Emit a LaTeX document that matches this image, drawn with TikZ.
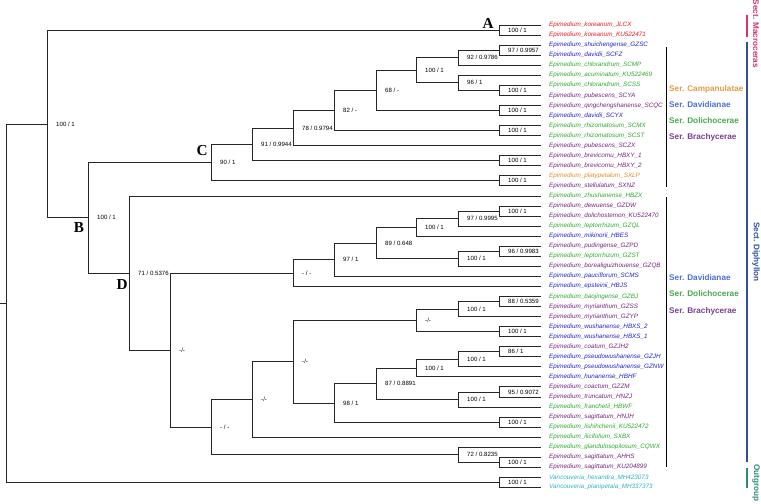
\documentclass[tikz,border=0pt]{standalone}
\usepackage{fontspec}
\setmainfont{Liberation Sans}
\newfontfamily\cladefont{Liberation Serif}
\usepackage{tikz}

% taxon colours
\definecolor{tred}{HTML}{E8191E}
\definecolor{tblue}{HTML}{2222CC}
\definecolor{tgreen}{HTML}{2EA82E}
\definecolor{tpurple}{HTML}{76237E}
\definecolor{torange}{HTML}{E48A2A}
\definecolor{tcyan}{HTML}{2DB3BE}
% series and section colours
\definecolor{sorange}{HTML}{E39A45}
\definecolor{sblue}{HTML}{4A70DA}
\definecolor{sgreen}{HTML}{46A94D}
\definecolor{spurple}{HTML}{7B3F92}
\definecolor{secmac}{HTML}{D7336A}
\definecolor{secdip}{HTML}{33509F}
\definecolor{secout}{HTML}{2B8A78}

\tikzset{
  branch/.style={line width=0.6pt, draw=black!85},
  taxon/.style={anchor=west, inner xsep=0.24cm, inner ysep=0pt, font=\fontsize{5.4}{6}\selectfont\itshape},
  supp/.style={font=\fontsize{5.2}{6}\selectfont, inner sep=0pt},
  bs/.style={label={[supp, label distance=0.27cm]right:#1}},
  clade/.style={inner sep=0pt, font=\cladefont\bfseries\fontsize{13}{13}\selectfont},
  serie/.style={anchor=west, inner sep=0pt, font=\fontsize{7}{8}\selectfont\bfseries},
  sect/.style={rotate=-90, inner sep=0pt, font=\fontsize{7}{8}\selectfont\bfseries},
  bar/.style={line width=1.1pt},
}

\begin{document}
\begin{tikzpicture}[x=0.03cm, y=-0.03cm]
    \useasboundingbox (0,0) rectangle (761,503);

    % tips
    \node[taxon, text=tred] (t1) at (541,25.0) {Epimedium\_koreanum\_JLCX};
    \node[taxon, text=tred] (t2) at (541,35.1) {Epimedium\_koreanum\_KU522471};
    \node[taxon, text=tblue] (t3) at (541,45.1) {Epimedium\_shuichengense\_GZSC};
    \node[taxon, text=tblue] (t4) at (541,55.2) {Epimedium\_davidii\_SCFZ};
    \node[taxon, text=tgreen] (t5) at (541,65.2) {Epimedium\_chlorandrum\_SCMP};
    \node[taxon, text=tgreen] (t6) at (541,75.3) {Epimedium\_acuminatum\_KU522469};
    \node[taxon, text=tgreen] (t7) at (541,85.3) {Epimedium\_chlorandrum\_SCSS};
    \node[taxon, text=tpurple] (t8) at (541,95.4) {Epimedium\_pubescens\_SCYA};
    \node[taxon, text=tpurple] (t9) at (541,105.4) {Epimedium\_qingchengshanense\_SCQC};
    \node[taxon, text=tblue] (t10) at (541,115.5) {Epimedium\_davidii\_SCYX};
    \node[taxon, text=tgreen] (t11) at (541,125.5) {Epimedium\_rhizomatosum\_SCMX};
    \node[taxon, text=tgreen] (t12) at (541,135.6) {Epimedium\_rhizomatosum\_SCST};
    \node[taxon, text=tpurple] (t13) at (541,145.6) {Epimedium\_pubescens\_SCZX};
    \node[taxon, text=tpurple] (t14) at (541,155.7) {Epimedium\_brevicornu\_HBXY\_1};
    \node[taxon, text=tpurple] (t15) at (541,165.7) {Epimedium\_brevicornu\_HBXY\_2};
    \node[taxon, text=torange] (t16) at (541,175.8) {Epimedium\_platypetalum\_SXLP};
    \node[taxon, text=tpurple] (t17) at (541,185.8) {Epimedium\_stellulatum\_SXNZ};
    \node[taxon, text=tgreen] (t18) at (541,195.9) {Epimedium\_zhushanense\_HBZX};
    \node[taxon, text=tpurple] (t19) at (541,205.9) {Epimedium\_dewuense\_GZDW};
    \node[taxon, text=tpurple] (t20) at (541,216.0) {Epimedium\_dolichostemon\_KU522470};
    \node[taxon, text=tgreen] (t21) at (541,226.0) {Epimedium\_leptorrhizum\_GZQL};
    \node[taxon, text=tblue] (t22) at (541,236.1) {Epimedium\_mikinorii\_HBES};
    \node[taxon, text=tpurple] (t23) at (541,246.1) {Epimedium\_pudingense\_GZPD};
    \node[taxon, text=tgreen] (t24) at (541,256.2) {Epimedium\_leptorrhizum\_GZST};
    \node[taxon, text=tpurple] (t25) at (541,266.2) {Epimedium\_borealiguizhouense\_GZQB};
    \node[taxon, text=tblue] (t26) at (541,276.3) {Epimedium\_pauciflorum\_SCMS};
    \node[taxon, text=tblue] (t27) at (541,286.3) {Epimedium\_epsteinii\_HBJS};
    \node[taxon, text=tgreen] (t28) at (541,296.4) {Epimedium\_baojingense\_GZBJ};
    \node[taxon, text=tpurple] (t29) at (541,306.4) {Epimedium\_myrianthum\_GZSS};
    \node[taxon, text=tpurple] (t30) at (541,316.5) {Epimedium\_myrianthum\_GZYP};
    \node[taxon, text=tblue] (t31) at (541,326.5) {Epimedium\_wushanense\_HBXS\_2};
    \node[taxon, text=tblue] (t32) at (541,336.6) {Epimedium\_wushanense\_HBXS\_1};
    \node[taxon, text=tpurple] (t33) at (541,346.6) {Epimedium\_coatum\_GZJH2};
    \node[taxon, text=tblue] (t34) at (541,356.7) {Epimedium\_pseudowushanense\_GZJH};
    \node[taxon, text=tblue] (t35) at (541,366.7) {Epimedium\_pseudowushanense\_GZNW};
    \node[taxon, text=tblue] (t36) at (541,376.8) {Epimedium\_hunanense\_HBHF};
    \node[taxon, text=tpurple] (t37) at (541,386.8) {Epimedium\_coactum\_GZZM};
    \node[taxon, text=tpurple] (t38) at (541,396.9) {Epimedium\_truncatum\_HNZJ};
    \node[taxon, text=tgreen] (t39) at (541,406.9) {Epimedium\_franchetii\_HBWF};
    \node[taxon, text=tpurple] (t40) at (541,417.0) {Epimedium\_sagittatum\_HNJH};
    \node[taxon, text=tgreen] (t41) at (541,427.0) {Epimedium\_lishihchenii\_KU522472};
    \node[taxon, text=tgreen] (t42) at (541,437.1) {Epimedium\_ilicifolium\_SXBX};
    \node[taxon, text=tgreen] (t43) at (541,447.1) {Epimedium\_glandulosopilosum\_CQWX};
    \node[taxon, text=tpurple] (t44) at (541,457.2) {Epimedium\_sagittatum\_AHHS};
    \node[taxon, text=tpurple] (t45) at (541,467.2) {Epimedium\_sagittatum\_KU204899};
    \node[taxon, text=tcyan] (t46) at (541,477.3) {Vancouveria\_hexandra\_MH423073};
    \node[taxon, text=tcyan] (t47) at (541,487.3) {Vancouveria\_planipetala\_MH337373};

    % internal nodes with support values
    \coordinate (stub) at (0,303.1);
    \coordinate (root) at (6,303.1);
    \coordinate[bs=100 / 1] (nE) at (47,123.9);
    \coordinate[bs=100 / 1] (pA) at (499,30.05);
    \coordinate[bs=100 / 1] (B) at (88,217.75);
    % clade C
    \coordinate[bs=90 / 1] (C) at (211,162.6);
    \coordinate[bs=91 / 0.9944] (n91) at (252,144.35);
    \coordinate[bs=78 / 0.9794] (n78) at (293,128.0);
    \coordinate[bs=82 / -] (n82) at (334,110.45);
    \coordinate[bs=68 / -] (n68) at (376,90.35);
    \coordinate[bs=100 / 1] (n100a) at (416,70.25);
    \coordinate[bs=92 / 0.9786] (n92) at (458,57.7);
    \coordinate[bs=97 / 0.9957] (p97) at (499,50.15);
    \coordinate[bs=96 / 1] (n96) at (458,82.8);
    \coordinate[bs=100 / 1] (p78) at (499,90.35);
    \coordinate[bs=100 / 1] (p910) at (499,110.45);
    \coordinate[bs=100 / 1] (p1112) at (499,130.55);
    \coordinate[bs=100 / 1] (p1415) at (499,160.7);
    \coordinate[bs=100 / 1] (p1617) at (499,180.8);
    % clade D
    \coordinate[bs=71 / 0.5376] (D) at (129,272.9);
    \coordinate[bs=-/-] (nD6) at (170,349.95);
    \coordinate[bs=- / -] (nD1) at (293,272.95);
    \coordinate[bs=97 / 1] (n97c) at (334,259.65);
    \coordinate[bs=89 / 0.648] (n89) at (376,243.0);
    \coordinate[bs=100 / 1] (n100b) at (416,227.3);
    \coordinate[bs=97 / 0.9995] (n97b) at (458,218.5);
    \coordinate[bs=100 / 1] (p1920) at (499,210.95);
    \coordinate[bs=100 / 1] (n100c) at (458,258.7);
    \coordinate[bs=96 / 0.9983] (p2324) at (499,251.15);
    \coordinate[bs=- / -] (nD5) at (211,426.95);
    \coordinate[bs=-/-] (nD4) at (252,399.3);
    \coordinate[bs=-/-] (nD3) at (293,361.55);
    \coordinate[bs=-/-] (nD2) at (416,320.25);
    \coordinate[bs=100 / 1] (n100d) at (458,308.95);
    \coordinate[bs=88 / 0.5359] (p2829) at (499,301.4);
    \coordinate[bs=100 / 1] (p3132) at (499,331.55);
    \coordinate[bs=98 / 1] (n98) at (334,402.85);
    \coordinate[bs=87 / 0.8891] (n87) at (376,383.7);
    \coordinate[bs=100 / 1] (n100f) at (416,368.0);
    \coordinate[bs=100 / 1] (n100e) at (458,359.2);
    \coordinate[bs=86 / 1] (p3334) at (499,351.65);
    \coordinate[bs=100 / 1] (n100g) at (458,399.4);
    \coordinate[bs=95 / 0.9072] (p3738) at (499,391.85);
    \coordinate[bs=100 / 1] (p4041) at (499,422);
    \coordinate[bs=72 / 0.8235] (n72) at (458,454.65);
    \coordinate[bs=100 / 1] (p4445) at (499,462.2);
    % outgroup
    \coordinate[bs=100 / 1] (pOut) at (499,482.3);

    % branches
    \draw[branch] (stub) -- (root);
    \draw[branch] (root) |- (nE) (root) |- (pOut);
    \draw[branch] (nE) |- (pA) (nE) |- (B);
    \draw[branch] (pA) |- (t1.west) (pA) |- (t2.west);
    \draw[branch] (B) |- (C) (B) |- (D);
    \draw[branch] (C) |- (n91) (C) |- (p1617);
    \draw[branch] (n91) |- (n78) (n91) |- (p1415);
    \draw[branch] (n78) |- (n82) (n78) |- (t13.west);
    \draw[branch] (n82) |- (n68) (n82) |- (p1112);
    \draw[branch] (n68) |- (n100a) (n68) |- (p910);
    \draw[branch] (n100a) |- (n92) (n100a) |- (n96);
    \draw[branch] (n92) |- (p97) (n92) |- (t5.west);
    \draw[branch] (p97) |- (t3.west) (p97) |- (t4.west);
    \draw[branch] (n96) |- (t6.west) (n96) |- (p78);
    \draw[branch] (p78) |- (t7.west) (p78) |- (t8.west);
    \draw[branch] (p910) |- (t9.west) (p910) |- (t10.west);
    \draw[branch] (p1112) |- (t11.west) (p1112) |- (t12.west);
    \draw[branch] (p1415) |- (t14.west) (p1415) |- (t15.west);
    \draw[branch] (p1617) |- (t16.west) (p1617) |- (t17.west);
    \draw[branch] (D) |- (t18.west) (D) |- (nD6);
    \draw[branch] (nD6) |- (nD1) (nD6) |- (nD5);
    \draw[branch] (nD1) |- (n97c) (nD1) |- (t27.west);
    \draw[branch] (n97c) |- (n89) (n97c) |- (t26.west);
    \draw[branch] (n89) |- (n100b) (n89) |- (n100c);
    \draw[branch] (n100b) |- (n97b) (n100b) |- (t22.west);
    \draw[branch] (n97b) |- (p1920) (n97b) |- (t21.west);
    \draw[branch] (p1920) |- (t19.west) (p1920) |- (t20.west);
    \draw[branch] (n100c) |- (p2324) (n100c) |- (t25.west);
    \draw[branch] (p2324) |- (t23.west) (p2324) |- (t24.west);
    \draw[branch] (nD5) |- (nD4) (nD5) |- (n72);
    \draw[branch] (nD4) |- (nD3) (nD4) |- (t42.west);
    \draw[branch] (nD3) |- (nD2) (nD3) |- (n98);
    \draw[branch] (nD2) |- (n100d) (nD2) |- (p3132);
    \draw[branch] (n100d) |- (p2829) (n100d) |- (t30.west);
    \draw[branch] (p2829) |- (t28.west) (p2829) |- (t29.west);
    \draw[branch] (p3132) |- (t31.west) (p3132) |- (t32.west);
    \draw[branch] (n98) |- (n87) (n98) |- (p4041);
    \draw[branch] (n87) |- (n100f) (n87) |- (n100g);
    \draw[branch] (n100f) |- (n100e) (n100f) |- (t36.west);
    \draw[branch] (n100e) |- (p3334) (n100e) |- (t35.west);
    \draw[branch] (p3334) |- (t33.west) (p3334) |- (t34.west);
    \draw[branch] (n100g) |- (p3738) (n100g) |- (t39.west);
    \draw[branch] (p3738) |- (t37.west) (p3738) |- (t38.west);
    \draw[branch] (p4041) |- (t40.west) (p4041) |- (t41.west);
    \draw[branch] (n72) |- (t43.west) (n72) |- (p4445);
    \draw[branch] (p4445) |- (t44.west) (p4445) |- (t45.west);
    \draw[branch] (pOut) |- (t46.west) (pOut) |- (t47.west);

    % clade letters
    \node[clade] (labA) at (488,23) {A};
    \node[clade] (labB) at (79,228) {B};
    \node[clade] (labC) at (202,151) {C};
    \node[clade] (labD) at (122,285) {D};

    % series brackets
    \draw[line width=0.8pt] (666,47) -- (666,187);
    \draw[line width=0.8pt] (666,197) -- (666,467);
    \node[serie, text=sorange] (ser1) at (669,89) {Ser. Campanulatae};
    \node[serie, text=sblue] (ser2) at (669,105) {Ser. Davidianae};
    \node[serie, text=sgreen] (ser3) at (669,121) {Ser. Dolichocerae};
    \node[serie, text=spurple] (ser4) at (669,137) {Ser. Brachycerae};
    \node[serie, text=sblue] (ser5) at (669,278) {Ser. Davidianae};
    \node[serie, text=sgreen] (ser6) at (669,294) {Ser. Dolichocerae};
    \node[serie, text=spurple] (ser7) at (669,311) {Ser. Brachycerae};

    % sections
    \draw[bar, secmac] (747,15) -- (747,37);
    \draw[bar, secdip] (747,42) -- (747,462);
    \draw[bar, secout] (747,468) -- (747,488);
    \node[sect, text=secmac] (sec1) at (756,34) {Sect. Macroceras};
    \node[sect, text=secdip] (sec2) at (756,252) {Sect. Diphyllon};
    \node[sect, text=secout] (sec3) at (756,483) {Outgroup};
\end{tikzpicture}
\end{document}
